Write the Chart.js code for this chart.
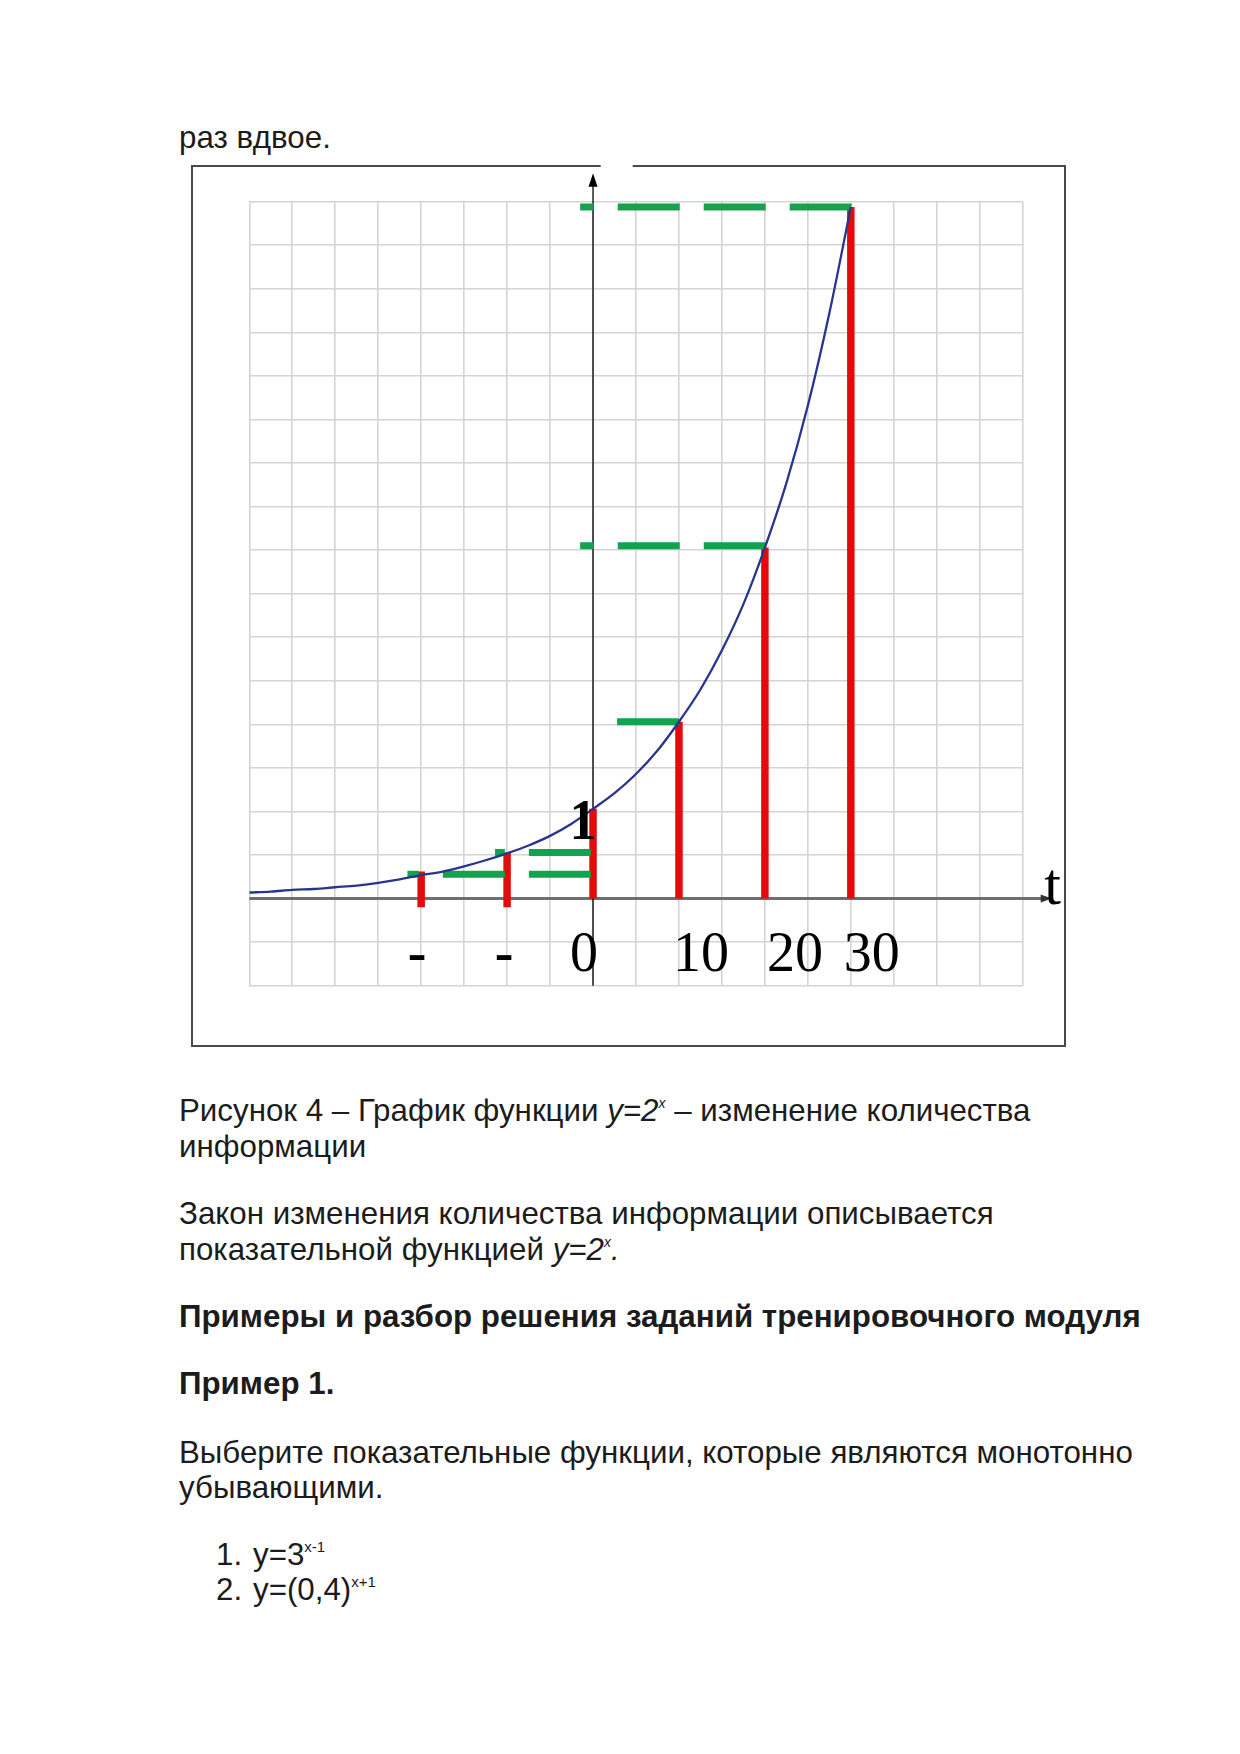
<!DOCTYPE html>
<html><head><meta charset="utf-8">
<script src="https://cdn.jsdelivr.net/npm/chart.js@4.4.1/dist/chart.umd.min.js"></script>
<style>
html,body{margin:0;padding:0;background:#fff;}
body{width:1240px;height:1754px;position:relative;overflow:hidden;font-family:"Liberation Sans",Arial,sans-serif;color:#1c1c1c;}
.ln{position:absolute;left:179px;font-size:31.3px;line-height:31.3px;white-space:nowrap;}
.b{font-weight:bold;}
.sup{font-size:14px;position:relative;top:-13px;}
.sup2{font-size:15px;position:relative;top:-13px;}
#wrap{position:absolute;left:180px;top:155px;width:900px;height:900px;}
</style></head><body>
<div class="ln" style="top:122px">раз вдвое.</div>
<div id="wrap"><canvas id="c" width="900" height="900"></canvas></div>
<div class="ln" style="top:1095px">Рисунок 4 – График функции <i>y=2<span class="sup">x</span></i> – изменение количества</div>
<div class="ln" style="top:1131px">информации</div>
<div class="ln" style="top:1198px">Закон изменения количества информации описывается</div>
<div class="ln" style="top:1234px">показательной функцией <i>y=2<span class="sup">x</span>.</i></div>
<div class="ln b" style="top:1301px">Примеры и разбор решения заданий тренировочного модуля</div>
<div class="ln b" style="top:1368px">Пример 1.</div>
<div class="ln" style="top:1437px">Выберите показательные функции, которые являются монотонно</div>
<div class="ln" style="top:1472px">убывающими.</div>
<div class="ln" style="top:1539px;left:216px">1.</div>
<div class="ln" style="top:1539px;left:253px">y=3<span class="sup2">x-1</span></div>
<div class="ln" style="top:1574px;left:216px">2.</div>
<div class="ln" style="top:1574px;left:253px">y=(0,4)<span class="sup2">x+1</span></div>
<script>
// ---- data ----
const curveT = [-40,-37.5,-35,-32.5,-30,-27.5,-25,-22.5,-20,-17.5,-15,-12.5,-10,-7.5,-5,-2.5,0,2.5,5,7.5,10,12.5,15,17.5,20,22.5,25,27.5,30];
const curveY = [0.07,0.08,0.1,0.11,0.13,0.15,0.18,0.22,0.27,0.31,0.37,0.44,0.52,0.61,0.72,0.86,1.03,1.21,1.43,1.7,2.03,2.4,2.85,3.38,4.03,4.77,5.66,6.72,7.94];
const redT = [-20,-10,0,10,20,30];
const redBottom = [-0.1,-0.1,0,0,0,0];
const redTop = [0.31,0.53,1.03,2.03,4.03,7.94];
const greenLevel = [0.28,0.53,2.03,4.05,7.94];
const greenFrom = [-0.25,-0.25,10,20.1,30.1];
const greenTo = [-21.6,-11.4,2.8,-1.5,-1.5];
const tickT = [-20,-10,0,10,20,30];
const tickLabels = ['-','-','0','10','20','30'];
const oneLabel = '1';
const axisLabel = 't';

// ---- layout constants (pixels) ----
const tickLabelDx = [-4,-3,-9,22,30,21];

const datasets = [];
redT.forEach((t,i)=>datasets.push({
  data:[{x:t,y:redBottom[i]},{x:t,y:redTop[i]}],
  borderColor:'#e30b0b', borderWidth:7.5, borderCapStyle:'butt', pointRadius:0, order:2
}));
greenLevel.forEach((v,i)=>datasets.push({
  data:[{x:greenFrom[i],y:v},{x:greenTo[i],y:v}],
  borderColor:'#15a14f', borderWidth:7, borderCapStyle:'butt', borderDash:[62,24], pointRadius:0, order:1
}));
datasets.push({
  data: curveT.map((t,i)=>({x:t,y:curveY[i]})),
  borderColor:'#27358f', borderWidth:2.3, pointRadius:0, cubicInterpolationMode:'monotone', order:0
});

const decor = {
  id:'decor',
  beforeDraw(chart){
    const ctx = chart.ctx;
    ctx.save();
    ctx.strokeStyle='#4a4a4a'; ctx.lineWidth=2;
    ctx.beginPath();
    ctx.moveTo(420.7,11); ctx.lineTo(12,11); ctx.lineTo(12,891); ctx.lineTo(885,891); ctx.lineTo(885,11); ctx.lineTo(452.7,11);
    ctx.stroke();
    ctx.restore();
  },
  beforeDatasetsDraw(chart){
    const ctx = chart.ctx, xs = chart.scales.x, ys = chart.scales.y;
    const x0 = xs.getPixelForValue(0), y0 = ys.getPixelForValue(0);
    ctx.save();
    ctx.strokeStyle='#6e6e6e'; ctx.lineWidth=3;
    ctx.beginPath(); ctx.moveTo(xs.left,y0); ctx.lineTo(xs.right+24,y0); ctx.stroke();
    ctx.fillStyle='#333';
    ctx.beginPath(); ctx.moveTo(xs.right+29,y0); ctx.lineTo(xs.right+18,y0-4); ctx.lineTo(xs.right+18,y0+4); ctx.closePath(); ctx.fill();
    ctx.strokeStyle='#000'; ctx.lineWidth=1.3;
    ctx.beginPath(); ctx.moveTo(x0,ys.bottom); ctx.lineTo(x0,ys.top-20); ctx.stroke();
    ctx.fillStyle='#000';
    ctx.beginPath(); ctx.moveTo(x0,ys.top-28.5); ctx.lineTo(x0-4.5,ys.top-15); ctx.lineTo(x0+4.5,ys.top-15); ctx.closePath(); ctx.fill();
    ctx.restore();
  },
  afterDatasetsDraw(chart){
    const ctx = chart.ctx, xs = chart.scales.x, ys = chart.scales.y;
    const x0 = xs.getPixelForValue(0), y0 = ys.getPixelForValue(0);
    ctx.save();
    ctx.fillStyle='#000'; ctx.textAlign='center'; ctx.textBaseline='alphabetic';
    tickT.forEach((t,i)=>{
      const px = xs.getPixelForValue(t)+tickLabelDx[i];
      const lab = tickLabels[i];
      ctx.font = (lab==='-' ? 'bold ' : '') + '56px "Liberation Serif", serif';
      ctx.fillText(lab, px, y0+72);
    });
    ctx.save();
    ctx.translate(x0-10, ys.getPixelForValue(1)+28);
    ctx.scale(0.95,1);
    ctx.font='bold 57px "Liberation Serif", serif';
    ctx.fillText(oneLabel,0,0);
    ctx.restore();
    ctx.font='60px "Liberation Serif", serif';
    ctx.fillText(axisLabel, xs.right+30, y0+5);
    ctx.restore();
  }
};

new Chart(document.getElementById('c'), {
  type:'line',
  data:{datasets},
  options:{
    responsive:false, animation:false,
    layout:{padding:{left:69.3,top:46.7,right:57.3,bottom:69.3}},
    plugins:{legend:{display:false}, tooltip:{enabled:false}},
    scales:{
      x:{type:'linear', min:-40, max:50,
         ticks:{display:false, stepSize:5},
         grid:{color:'#d4d4d4', lineWidth:1.6, drawTicks:false},
         border:{display:false}},
      y:{type:'linear', min:-1, max:8,
         ticks:{display:false, stepSize:0.5},
         grid:{color:'#d4d4d4', lineWidth:1.6, drawTicks:false},
         border:{display:false}}
    }
  },
  plugins:[decor]
});
</script>
</body></html>
